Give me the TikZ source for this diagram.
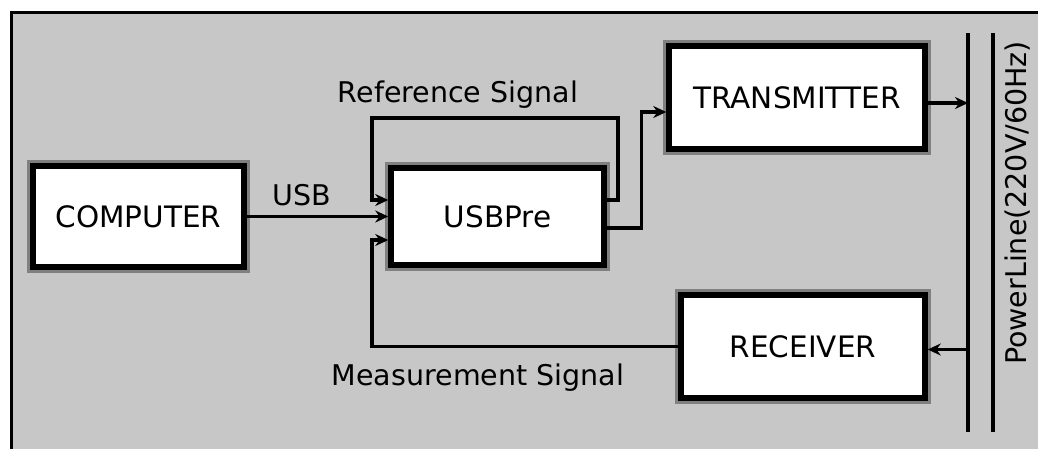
\documentclass[tikz,border=0pt]{standalone}
\usepackage{fontspec}
\setmainfont{DejaVu Sans}
\usetikzlibrary{arrows.meta,positioning}

\begin{document}
\begin{tikzpicture}[x=1pt,y=-1pt,
		block/.style={draw=black, line width=5.5pt, fill=white, font=\fontsize{29.5}{31}\selectfont,
			preaction={draw=black!50, line width=12pt}},
		conn/.style={line width=3.2pt},
		arr/.style={conn, -{Stealth[length=13pt,width=12pt]}},
		lbl/.style={font=\fontsize{28.5}{30}\selectfont}]
			\pgfmathsetmacro{\BusA}{968}
			\pgfmathsetmacro{\BusB}{993}
			\pgfmathsetmacro{\BusTop}{33}
			\pgfmathsetmacro{\BusBottom}{432}
			\useasboundingbox (0,0) rectangle (1038,448);
			\clip (0,0) rectangle (1038,448);
			
			% frame
			\draw[line width=3pt, fill=black!22] (11,12) rectangle (1050,460);
			
			\node[block, minimum width=211pt, minimum height=101pt] (computer) at (138.5,216.5) {COMPUTER};
			\node[block, minimum width=213pt, minimum height=97pt] (usbpre) at (497.5,216.5) {USBPre};
			\node[block, minimum width=256pt, minimum height=103pt] (transmitter) at (797,97.5) {TRANSMITTER};
			\node[block, minimum width=244pt, minimum height=103pt] (receiver) at (803,346.5) {RECEIVER};
			
			\coordinate (refR) at (618,118);
			\coordinate (refL) at (372,118);
			\coordinate (busAtop) at (\BusA,\BusTop);
			\coordinate (busAbot) at (\BusA,\BusBottom);
			\coordinate (busBtop) at (\BusB,\BusTop);
			\coordinate (busBbot) at (\BusB,\BusBottom);
			
			% power line
			\draw[line width=3.5pt] (busAtop) -- (busAbot);
			\draw[line width=3.5pt] (busBtop) -- (busBbot);
			\node[lbl, rotate=90] (powerline) at (1018,203) {PowerLine(220V/60Hz)};
			
			\draw[arr] (computer.east) -- (usbpre.west);
			\node[lbl] (usb) at (302,195) {USB};
			
			\draw[arr] ([yshift=16.5pt]usbpre.east) -| (refR) -- (refL) |- ([yshift=16.5pt]usbpre.west);
			\node[lbl] (reflabel) at (458,95) {Reference Signal};
			
			\draw[arr] ([yshift=-11.5pt]usbpre.east) -- ++(35,0) |- ([yshift=-14.5pt]transmitter.west);
			\draw[arr] ([yshift=-5.5pt]transmitter.east) -- ([yshift=-5.5pt]transmitter.east -| busAtop);
			\draw[arr] ([yshift=-3pt]receiver.east -| busAtop) -- ([yshift=-3pt]receiver.east);
			
			\draw[arr] (receiver.west) -- (receiver.west -| refL) |- ([yshift=-23.5pt]usbpre.west);
			\node[lbl] (measlabel) at (478,378) {Measurement Signal};
		\end{tikzpicture}
\end{document}
